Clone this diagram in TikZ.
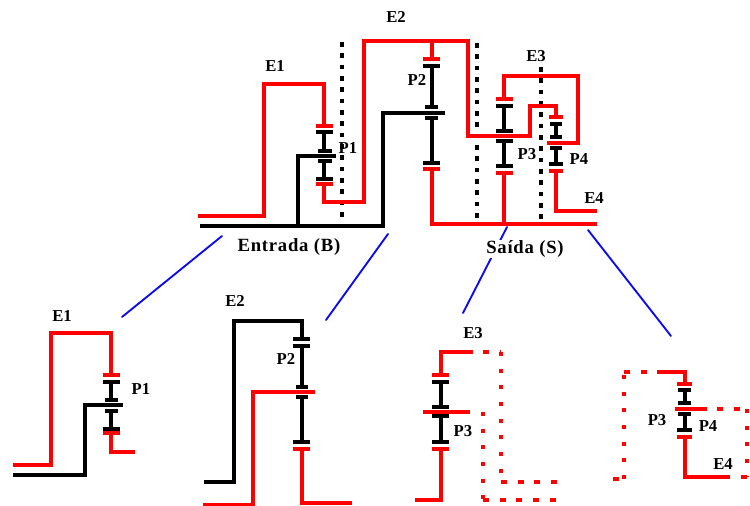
\documentclass[tikz,border=0pt]{standalone}
\usepackage{fontspec}
\setmainfont{Liberation Serif}
\newfontfamily\spreadfont[LetterSpace=4]{Liberation Serif}
\definecolor{shaftred}{RGB}{255,0,0}
\definecolor{linkblue}{RGB}{10,10,240}
\tikzset{
  redshaft/.style={draw=shaftred,line width=2.3pt},
  blackshaft/.style={draw=black,line width=2.3pt},
  sparse/.style={redshaft,dash pattern=on 4.5pt off 8pt},
  sparsev/.style={redshaft,dash pattern=on 3pt off 9.5pt},
  axisline/.style={draw=black,line width=2.3pt,dash pattern=on 3.5pt off 5pt},
  linkline/.style={draw=linkblue,line width=1.4pt,line cap=round},
  tag/.style={font=\fontsize{12.5}{14}\bfseries,inner sep=0pt},
  bigtag/.style={font=\spreadfont\fontsize{14}{16}\bfseries,inner sep=0.5pt,fill=white}
}
\begin{document}
\begin{tikzpicture}[x=0.75pt,y=-0.75pt]
    \useasboundingbox (0,0) rectangle (750,506);

    % axis lines
    \draw[axisline] (342,42) -- (342,217);
    \draw[axisline] (477,43) -- (477,224);
    \draw[axisline] (541,67) -- (541,224);

    % top drawing, shafts
    \draw[redshaft] (198,216) -- (264,216) -- (264,84) -- (324,84) -- (324,126);
    \draw[redshaft] (324,184) -- (324,202) -- (364,202) -- (364,41) -- (468,41) -- (468,136) -- (530,136) -- (530,106) -- (556,106) -- (556,117);
    \draw[redshaft] (432,41) -- (432,59);
    \draw[redshaft] (432,169) -- (432,224) -- (597,224);
    \draw[redshaft] (504,173) -- (504,224);
    \draw[redshaft] (504,99) -- (504,76) -- (578,76) -- (578,143) -- (547,143);
    \draw[redshaft] (556,171) -- (556,211) -- (597,211);
    \draw[blackshaft] (200,226) -- (383,226) -- (383,113) -- (445,113);
    \draw[blackshaft] (336,156) -- (298,156) -- (298,226);

    % top drawing, P1
    \draw[redshaft] (316,126) -- (333,126);
    \draw[blackshaft] (316,132) -- (333,132) (324,132) -- (324,151) (318,151) -- (332,151);
    \draw[blackshaft] (318,161) -- (332,161) (324,161) -- (324,179) (316,179) -- (333,179);
    \draw[redshaft] (316,184) -- (333,184);

    % top drawing, P2
    \draw[redshaft] (423,59) -- (440,59);
    \draw[blackshaft] (423,66) -- (440,66) (432,66) -- (432,107) (425,107) -- (438,107);
    \draw[blackshaft] (425,118) -- (438,118) (432,118) -- (432,163) (423,163) -- (440,163);
    \draw[redshaft] (423,169) -- (440,169);

    % top drawing, P3
    \draw[redshaft] (496,99) -- (513,99);
    \draw[blackshaft] (496,106) -- (513,106) (504,106) -- (504,131) (496,131) -- (513,131);
    \draw[blackshaft] (496,141) -- (513,141) (504,141) -- (504,166) (496,166) -- (513,166);
    \draw[redshaft] (496,173) -- (513,173);

    % top drawing, P4
    \draw[redshaft] (549,117) -- (563,117);
    \draw[blackshaft] (550,124) -- (562,124) (556,124) -- (556,137) (550,137) -- (562,137);
    \draw[blackshaft] (550,148) -- (562,148) (556,148) -- (556,164) (549,164) -- (563,164);
    \draw[redshaft] (549,171) -- (563,171);

    % links
    \draw[linkline] (222,236) -- (122,317);
    \draw[linkline] (388,234) -- (326,320);
    \draw[linkline] (507,227) -- (463,313);
    \draw[linkline] (588,230) -- (671,336);

    \node[tag] (e1top) at (275,66) {E1};
    \node[tag] (e2top) at (396,17) {E2};
    \node[tag] (e3top) at (536,56) {E3};
    \node[tag] (e4top) at (594,198) {E4};
    \node[tag] (p1top) at (348,148) {P1};
    \node[tag] (p2top) at (417,80) {P2};
    \node[tag] (p3top) at (527,154) {P3};
    \node[tag] (p4top) at (579,159) {P4};
    \node[bigtag] (entrada) at (289,247) {Entrada (B)};
    \node[bigtag] (saida) at (525,249) {Saída (S)};

    % detail E1
    \draw[redshaft] (13,465) -- (51,465) -- (51,333) -- (111,333) -- (111,375);
    \draw[redshaft] (103,375) -- (120,375);
    \draw[blackshaft] (103,382) -- (120,382) (111,382) -- (111,400) (105,400) -- (118,400);
    \draw[blackshaft] (123,405) -- (85,405) -- (85,475) -- (13,475);
    \draw[blackshaft] (105,411) -- (118,411) (111,411) -- (111,429) (103,429) -- (120,429);
    \draw[redshaft] (103,433) -- (120,433);
    \draw[redshaft] (111,433) -- (111,452) -- (135,452);
    \node[tag] (e1sub) at (62,316) {E1};
    \node[tag] (p1sub) at (141,389) {P1};

    % detail E2
    \draw[blackshaft] (204,482) -- (234,482) -- (234,321) -- (302,321) -- (302,339);
    \draw[blackshaft] (293,339) -- (310,339);
    \draw[blackshaft] (293,346) -- (310,346) (302,346) -- (302,387) (296,387) -- (308,387);
    \draw[redshaft] (315,392) -- (253,392) -- (253,505) -- (203,505);
    \draw[blackshaft] (296,397) -- (308,397) (302,397) -- (302,442) (293,442) -- (310,442);
    \draw[redshaft] (293,449) -- (310,449);
    \draw[redshaft] (302,449) -- (302,503) -- (352,503);
    \node[tag] (e2sub) at (235,301) {E2};
    \node[tag] (p2sub) at (286,359) {P2};

    % detail E3
    \draw[redshaft] (415,500) -- (441,500) -- (441,449);
    \draw[redshaft] (432,449) -- (449,449);
    \draw[blackshaft] (432,442) -- (449,442) (441,442) -- (441,416) (432,416) -- (449,416);
    \draw[redshaft] (423,412) -- (470,412);
    \draw[blackshaft] (432,407) -- (449,407) (441,407) -- (441,382) (432,382) -- (449,382);
    \draw[redshaft] (432,375) -- (449,375);
    \draw[redshaft] (441,375) -- (441,352) -- (473,352);
    \draw[sparse] (483,352) -- (501,352);
    \draw[sparsev] (501,352) -- (501,482);
    \draw[sparse] (501,482) -- (562,482);
    \draw[sparsev] (483,412) -- (483,500);
    \draw[sparse] (483,500) -- (562,500);
    \node[tag] (e3sub) at (473,333) {E3};
    \node[tag] (p3sub) at (463,431) {P3};

    % detail E4
    \draw[sparse] (613,479) -- (624,479);
    \draw[sparsev] (624,479) -- (624,372);
    \draw[sparse] (624,372) -- (657,372);
    \draw[redshaft] (657,372) -- (685,372) -- (685,384);
    \draw[redshaft] (677,384) -- (692,384);
    \draw[blackshaft] (678,390) -- (691,390) (685,390) -- (685,403) (678,403) -- (691,403);
    \draw[redshaft] (675,409) -- (707,409);
    \draw[blackshaft] (678,414) -- (691,414) (685,414) -- (685,430) (677,430) -- (692,430);
    \draw[redshaft] (677,437) -- (692,437);
    \draw[redshaft] (685,437) -- (685,477) -- (725,477);
    \draw[sparse] (717,409) -- (747,409);
    \draw[sparsev] (747,409) -- (747,477);
    \draw[sparse] (747,477) -- (725,477);
    \node[tag] (p3det) at (657,420) {P3};
    \node[tag] (p4det) at (708,426) {P4};
    \node[tag] (e4det) at (723,464) {E4};
\end{tikzpicture}
\end{document}
